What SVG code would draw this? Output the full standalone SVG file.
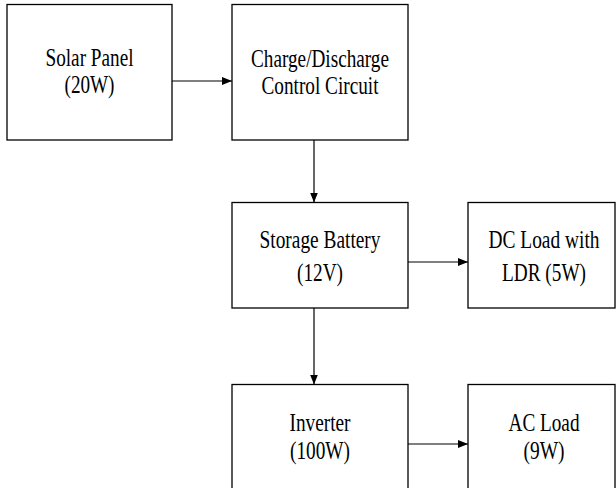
<svg xmlns="http://www.w3.org/2000/svg" width="616" height="488" viewBox="0 0 616 488">
<style>
.box{fill:#fff;stroke:#000;stroke-width:1.3}
.lbl{font-family:"Liberation Serif","Times New Roman",serif;font-size:25px;fill:#000;text-anchor:middle}
.con{stroke:#000;stroke-width:1.2;fill:none;marker-end:url(#ah)}
</style>
<defs>
<marker id="ah" markerUnits="userSpaceOnUse" markerWidth="10" markerHeight="8" refX="10" refY="4" orient="auto">
<path d="M0,0 L10,4 L0,8 z" fill="#000"/>
</marker>
</defs>
<rect width="616" height="488" fill="#fff"/>
<g id="solar">
<rect class="box" x="7" y="4.5" width="165" height="135.5"/>
<text class="lbl" x="89.5" y="66" textLength="88" lengthAdjust="spacingAndGlyphs">Solar Panel</text>
<text class="lbl" x="89.5" y="93" textLength="50" lengthAdjust="spacingAndGlyphs">(20W)</text>
</g>
<g id="charge">
<rect class="box" x="232" y="4.5" width="176" height="135.5"/>
<text class="lbl" x="320" y="67" textLength="138" lengthAdjust="spacingAndGlyphs">Charge/Discharge</text>
<text class="lbl" x="320" y="94" textLength="117" lengthAdjust="spacingAndGlyphs">Control Circuit</text>
</g>
<g id="battery">
<rect class="box" x="232" y="202.5" width="176" height="105.5"/>
<text class="lbl" x="320" y="248" textLength="121" lengthAdjust="spacingAndGlyphs">Storage Battery</text>
<text class="lbl" x="320" y="281" textLength="46" lengthAdjust="spacingAndGlyphs">(12V)</text>
</g>
<g id="dcload">
<rect class="box" x="468" y="202.5" width="147" height="105.5"/>
<text class="lbl" x="544" y="248" textLength="111" lengthAdjust="spacingAndGlyphs">DC Load with</text>
<text class="lbl" x="544" y="281" textLength="84" lengthAdjust="spacingAndGlyphs">LDR (5W)</text>
</g>
<g id="inverter">
<rect class="box" x="232" y="384.5" width="176" height="120"/>
<text class="lbl" x="320" y="431" textLength="61" lengthAdjust="spacingAndGlyphs">Inverter</text>
<text class="lbl" x="320" y="459" textLength="60" lengthAdjust="spacingAndGlyphs">(100W)</text>
</g>
<g id="acload">
<rect class="box" x="468" y="384.5" width="147" height="120"/>
<text class="lbl" x="544" y="431" textLength="71" lengthAdjust="spacingAndGlyphs">AC Load</text>
<text class="lbl" x="544" y="459" textLength="41" lengthAdjust="spacingAndGlyphs">(9W)</text>
</g>
<g id="connectors">
<line class="con" x1="172" y1="81" x2="232" y2="81"/>
<line class="con" x1="314" y1="140" x2="314" y2="202.5"/>
<line class="con" x1="408" y1="262" x2="468" y2="262"/>
<line class="con" x1="314" y1="308" x2="314" y2="384.5"/>
<line class="con" x1="408" y1="444" x2="468" y2="444"/>
</g>
</svg>
